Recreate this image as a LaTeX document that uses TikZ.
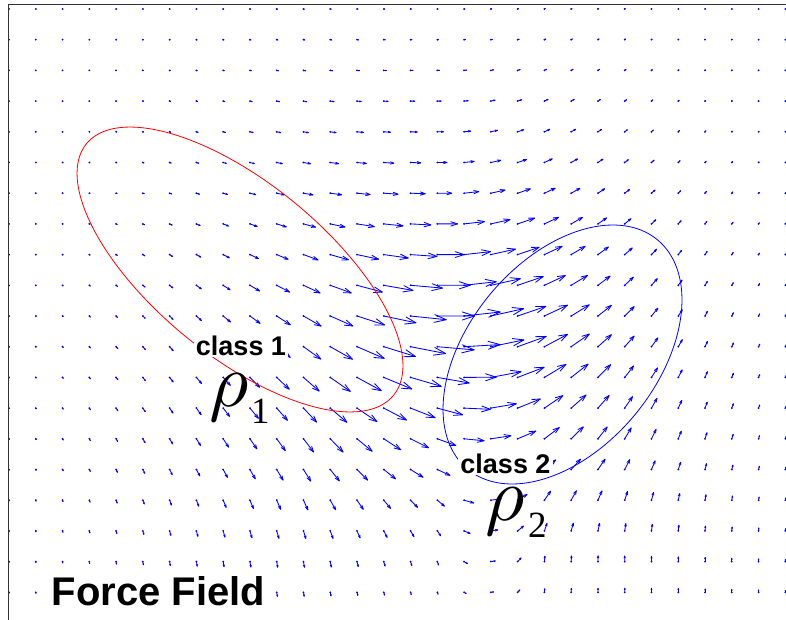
\documentclass[tikz,border=0pt]{standalone}
\usepackage{fontspec}
\newfontfamily\lsans{Liberation Sans}
\newfontfamily\lserif{Liberation Serif}
\tikzset{
  qv/.style={blue, line width=0.85pt, line cap=round, line join=round},
  cls/.style={font=\lsans\bfseries\fontsize{27}{27}\selectfont, fill=white, inner sep=2pt},
  fflab/.style={font=\lsans\bfseries\fontsize{40}{40}\selectfont, fill=white, inner sep=3pt},
  rholab/.style={scale=7.6, inner sep=0pt},
  sublab/.style={font=\lserif\fontsize{37}{37}\selectfont, inner sep=0pt},
  frame/.style={black!80, line width=1pt}
}
\def\XK{{170,303,437,544,625,706}}
\def\YK{{193,316,469,560}}
\def\AT{{20,10,0,-25,-38,-50,45,30,0,-25,-45,-63,63,58,25,-40,-63,-75,80,80,70,-85,-90,-90}}
\begin{document}
\begin{tikzpicture}[x=1pt,y=-1pt]
\useasboundingbox (0,0) rectangle (786,620);
\fill[white] (0,0) rectangle (786,620);
% quiver field
\foreach \i in {0,...,29}{
  \foreach \j in {0,...,19}{
    \pgfmathsetmacro\px{9+26.77*\i}
    \pgfmathsetmacro\py{9+30.7*\j}
    \pgfmathsetmacro\cx{min(max(\px,170),706)}
    \pgfmathsetmacro\cy{min(max(\py,193),560)}
    \pgfmathtruncatemacro\ix{(\cx>303)+(\cx>437)+(\cx>544)+(\cx>625)}
    \pgfmathtruncatemacro\iy{(\cy>316)+(\cy>469)}
    \pgfmathsetmacro\xa{\XK[\ix]}
    \pgfmathsetmacro\xb{\XK[\ix+1]}
    \pgfmathsetmacro\ya{\YK[\iy]}
    \pgfmathsetmacro\yb{\YK[\iy+1]}
    \pgfmathsetmacro\ttx{(\cx-\xa)/(\xb-\xa)}
    \pgfmathsetmacro\tty{(\cy-\ya)/(\yb-\ya)}
    \pgfmathtruncatemacro\kk{6*\iy+\ix}
    \pgfmathsetmacro\aaa{\AT[\kk]}
    \pgfmathsetmacro\aab{\AT[\kk+1]}
    \pgfmathsetmacro\aba{\AT[\kk+6]}
    \pgfmathsetmacro\abb{\AT[\kk+7]}
    \pgfmathsetmacro\ang{(1-\tty)*((1-\ttx)*\aaa+\ttx*\aab)+\tty*((1-\ttx)*\aba+\ttx*\abb)}
    \pgfmathsetmacro\ddx{\px-440}
    \pgfmathsetmacro\yc{330+12*(\ddx/100)^2}
    \pgfmathsetmacro\sy{92+0.13*abs(\ddx)}
    \pgfmathsetmacro\qq{(\ddx/125)^2+((\py-\yc)/\sy)^2+0.0001}
    \pgfmathsetmacro\mag{38*exp(-0.5*(\qq)^0.85)}
    \pgfmathsetmacro\vu{\mag*cos(\ang)}
    \pgfmathsetmacro\vv{\mag*sin(\ang)}
    \pgfmathsetmacro\hx{0.33*(\vu+0.33*\vv)}
    \pgfmathsetmacro\hy{0.33*(\vv-0.33*\vu)}
    \pgfmathsetmacro\gx{0.33*(\vu-0.33*\vv)}
    \pgfmathsetmacro\gy{0.33*(\vv+0.33*\vu)}
    \fill[blue] (\px,\py) circle (1pt);
    \draw[qv] (\px,\py) -- ++(\vu,\vv);
    \draw[qv] (\px+\vu-\hx,\py+\vv-\hy) -- (\px+\vu,\py+\vv) -- (\px+\vu-\gx,\py+\vv-\gy);
  }
}
% class ellipses
\draw[red, line width=0.8pt] plot[domain=0:360, samples=120, smooth cycle]
  ({240+198.5*cos(\x)*cos(39.35)-86.3*sin(\x)*sin(39.35)},
   {269.5+198.5*cos(\x)*sin(39.35)+86.3*sin(\x)*cos(39.35)});
\draw[blue, line width=0.8pt] plot[domain=0:360, samples=120, smooth cycle]
  ({562.5+148.9*cos(\x)*cos(-50.4)-94.2*sin(\x)*sin(-50.4)},
   {354.5+148.9*cos(\x)*sin(-50.4)+94.2*sin(\x)*cos(-50.4)});
% axes frame
\draw[frame] (8,620) -- (8,4.5) -- (786,4.5);
% labels
\node[cls, anchor=base] (c1) at (241,355) {class 1};
\node[rholab, anchor=base west] (r1) at (208,406) {$\rho$};
\node[sublab, anchor=base west] (s1) at (251,423) {1};
\node[cls, anchor=base] (c2) at (505.5,473) {class 2};
\node[rholab, anchor=base west] (r2) at (484,520) {$\rho$};
\node[sublab, anchor=base west] (s2) at (528,537) {2};
\node[fflab, anchor=base] (ff) at (158.5,605) {Force Field};
\end{tikzpicture}
\end{document}
